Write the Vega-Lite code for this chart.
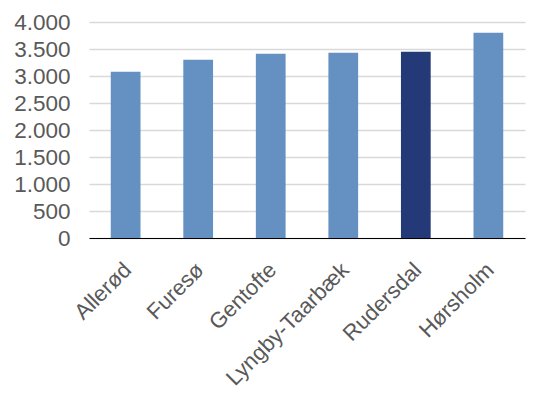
{
  "$schema": "https://vega.github.io/schema/vega-lite/v6.json",
  "autosize": "none",
  "width": 436,
  "height": 216,
  "padding": {"left": 89, "top": 22, "right": 19, "bottom": 158},
  "background": "white",
  "data": {
    "values": [
      {"kommune": "Allerød", "value": 3080, "highlight": "no"},
      {"kommune": "Furesø", "value": 3300, "highlight": "no"},
      {"kommune": "Gentofte", "value": 3413, "highlight": "no"},
      {"kommune": "Lyngby-Taarbæk", "value": 3431, "highlight": "no"},
      {"kommune": "Rudersdal", "value": 3450, "highlight": "yes"},
      {"kommune": "Hørsholm", "value": 3802, "highlight": "no"}
    ]
  },
  "mark": {"type": "bar"},
  "encoding": {
    "x": {
      "field": "kommune",
      "type": "nominal",
      "sort": null,
      "scale": {"paddingInner": 0.59, "paddingOuter": 0.3},
      "axis": {
        "title": null,
        "labelAngle": -45,
        "labelAlign": "right",
        "labelBaseline": "middle",
        "labelFont": "Liberation Sans",
        "labelFontSize": 22,
        "labelColor": "#595959",
        "labelPadding": 28,
        "labelOffset": 2,
        "ticks": false,
        "domainColor": "#000000",
        "domainWidth": 1,
        "grid": false
      }
    },
    "y": {
      "field": "value",
      "type": "quantitative",
      "scale": {"domain": [0, 4000]},
      "axis": {
        "title": null,
        "values": [0, 500, 1000, 1500, 2000, 2500, 3000, 3500, 4000],
        "labelExpr": "replace(format(datum.value, ','), ',', '.')",
        "labelFont": "Liberation Sans",
        "labelFontSize": 22.5,
        "labelColor": "#595959",
        "labelPadding": 19,
        "ticks": false,
        "domain": false,
        "gridColor": "#D9D9D9",
        "gridWidth": 1.3
      }
    },
    "color": {
      "field": "highlight",
      "type": "nominal",
      "scale": {"domain": ["no", "yes"], "range": ["#6490C2", "#243A78"]},
      "legend": null
    }
  },
  "config": {"view": {"stroke": null}}
}
